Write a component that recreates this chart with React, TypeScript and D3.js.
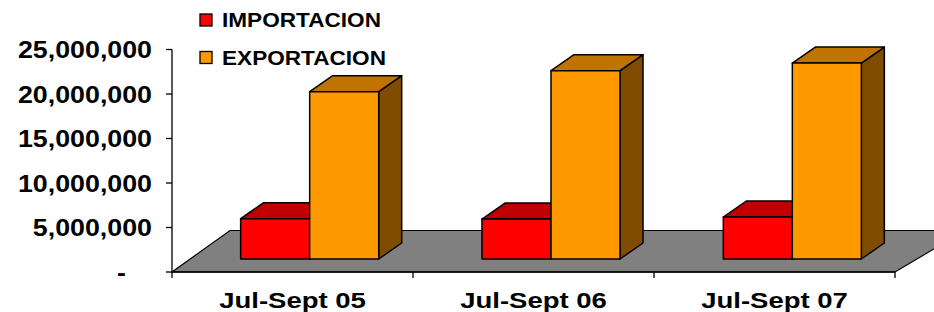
import React from 'react';
import * as d3 from 'd3';

const categories = ["Jul-Sept 05", "Jul-Sept 06", "Jul-Sept 07"];
const importacion = [4530000, 4490000, 4720000];
const exportacion = [18800000, 21160000, 22020000];
const yTicks = [0, 5000000, 10000000, 15000000, 20000000, 25000000];
const seriesNames = ["IMPORTACION", "EXPORTACION"];

const palette = {
    IMPORTACION: { front: "#FF0000", top: "#C00000", side: "#800000" },
    EXPORTACION: { front: "#FF9900", top: "#C07300", side: "#804D00" },
};

const width = 934;
const height = 312;
const font = "'Liberation Sans', Arial, sans-serif";

const App = () => {
    const y = d3.scaleLinear().domain([0, 25000000]).range([272, 49.5]);
    const xAxis = d3.scaleBand().domain(categories).range([172, 895]);
    const xBars = d3.scaleBand().domain(categories).range([189, 913])
        .paddingInner(0.428).paddingOuter(0.214);
    const xSeries = d3.scaleBand().domain(seriesNames).range([0, xBars.bandwidth()]);

    // 3d offsets
    const floorBack = { dxL: 58, dxR: 70, dy: -41.5 };
    const lift = 13;
    const depth = { dx: 23, dy: -16 };

    const y0 = y(0);
    const floor = [
        [xAxis.range()[0], y0],
        [xAxis.range()[1], y0],
        [xAxis.range()[1] + floorBack.dxR, y0 + floorBack.dy],
        [xAxis.range()[0] + floorBack.dxL, y0 + floorBack.dy],
    ];

    const fmt = (v) => v === 0 ? "-" : d3.format(",")(v);

    const box = (key, x0, x1, v, name) => {
        const yb = y0 - lift;
        const yt = y(v) - lift;
        const c = palette[name];
        const top = [[x0, yt], [x1, yt], [x1 + depth.dx, yt + depth.dy], [x0 + depth.dx, yt + depth.dy]];
        const side = [[x1, yt], [x1 + depth.dx, yt + depth.dy], [x1 + depth.dx, yb + depth.dy], [x1, yb]];
        return (
            <g key={key} stroke="#000" strokeWidth={1.5} strokeLinejoin="round">
                <polygon points={side.join(" ")} fill={c.side} />
                <polygon points={top.join(" ")} fill={c.top} />
                <rect x={x0} y={yt} width={x1 - x0} height={yb - yt} fill={c.front} />
            </g>
        );
    };

    return (
        <svg width={width} height={height} style={{ position: "absolute", left: 0, top: 0, background: "#fff" }}>
            <polygon points={floor.join(" ")} fill="#808080" stroke="#000" strokeWidth={1.2} />

            {/* y axis */}
            <line x1={172} x2={172} y1={y(25000000)} y2={y0} stroke="#000" strokeWidth={1.3} />
            {yTicks.map(t => (
                <g key={t}>
                    <line x1={166} x2={172} y1={y(t)} y2={y(t)} stroke="#000" strokeWidth={1.3} />
                    <text transform={`translate(${t === 0 ? 126 : 152},${y(t) + 8.5}) scale(1.14,1)`}
                        textAnchor="end" fontFamily={font} fontWeight="bold" fontSize={23.5}>{fmt(t)}</text>
                </g>
            ))}

            {/* x axis */}
            <line x1={172} x2={895} y1={y0} y2={y0} stroke="#000" strokeWidth={1.3} />
            {[...categories.map(c => xAxis(c)), xAxis.range()[1]].map((xv, i) => (
                <line key={i} x1={xv} x2={xv} y1={y0} y2={y0 + 6} stroke="#000" strokeWidth={1.3} />
            ))}
            {categories.map(c => (
                <text key={c} transform={`translate(${xAxis(c) + xAxis.bandwidth() / 2},308) scale(1.25,1)`}
                    textAnchor="middle" fontFamily={font} fontWeight="bold" fontSize={22}>{c}</text>
            ))}

            {/* bars */}
            {categories.map((c, i) => {
                const gx = xBars(c);
                return (
                    <g key={c}>
                        {box("imp", gx + xSeries("IMPORTACION"), gx + xSeries("IMPORTACION") + xSeries.bandwidth(), importacion[i], "IMPORTACION")}
                        {box("exp", gx + xSeries("EXPORTACION"), gx + xSeries("EXPORTACION") + xSeries.bandwidth(), exportacion[i], "EXPORTACION")}
                    </g>
                );
            })}

            {/* legend */}
            {seriesNames.map((s, i) => (
                <g key={s} transform={`translate(200,${14 + i * 37.5})`}>
                    <rect x={0} y={0} width={12} height={12} fill={palette[s].front} stroke="#000" strokeWidth={1.3} />
                    <text transform="translate(22,13) scale(1.13,1)" fontFamily={font} fontWeight="bold" fontSize={20}>{s}</text>
                </g>
            ))}
        </svg>
    );
};

export default App;
